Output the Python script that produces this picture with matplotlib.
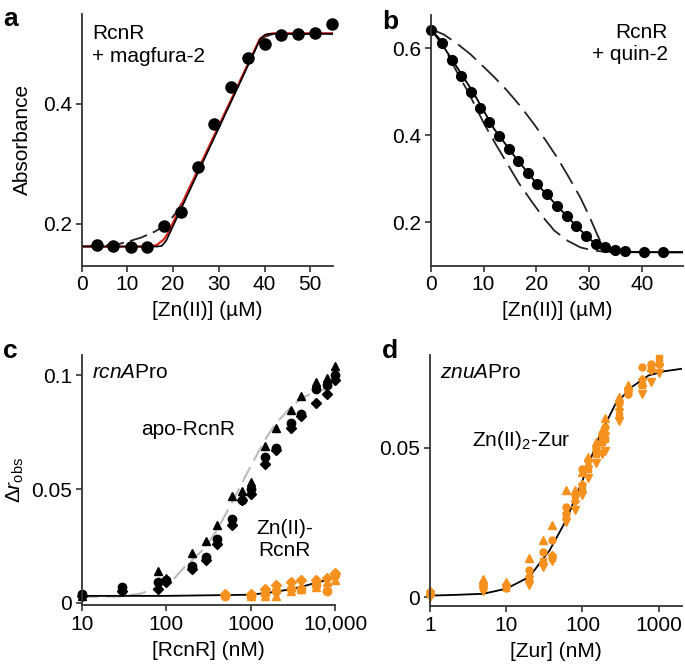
import matplotlib
matplotlib.use("Agg")
import matplotlib.pyplot as plt
from matplotlib.ticker import FixedLocator, NullLocator

plt.rcParams['font.family'] = ['Liberation Sans', 'DejaVu Sans']
plt.rcParams['mathtext.fontset'] = 'custom'
plt.rcParams['mathtext.rm'] = 'Liberation Sans'
plt.rcParams['mathtext.it'] = 'Liberation Sans:italic'

ORANGE = '#F7911E'
SPINE = '#333333'

# ---------------- panel a data ----------------
a_x = [3.3, 6.9, 10.7, 14.2, 18.0, 21.7, 25.4, 29.0, 32.7, 36.3, 40.1, 43.7, 47.4, 51.0, 54.7]
a_y = [0.164, 0.163, 0.161, 0.161, 0.196, 0.219, 0.294, 0.367, 0.428, 0.476, 0.500, 0.515, 0.516, 0.518, 0.534]
a_fit_x = [0, 16.5, 17.5, 18.5, 39.0, 40.0, 41.0, 55]
a_fit_y = [0.162, 0.162, 0.163, 0.172, 0.507, 0.515, 0.517, 0.517]
a_red_x = [0, 15.0, 16.5, 18.0, 19.0, 39.0, 40.5, 42.0, 55]
a_red_y = [0.162, 0.162, 0.165, 0.174, 0.186, 0.509, 0.516, 0.518, 0.518]
a_dash_x = [0, 4, 8, 10, 13, 16, 18.6, 21, 23, 25, 27, 30, 33, 36, 38, 40, 42, 55]
a_dash_y = [0.1625, 0.163, 0.166, 0.170, 0.177, 0.187, 0.199, 0.222, 0.250, 0.283, 0.313, 0.361,
            0.410, 0.459, 0.491, 0.512, 0.517, 0.517]

# ---------------- panel b data ----------------
b_x = [0, 2.1, 4.0, 5.7, 7.6, 9.4, 11.1, 12.9, 14.8, 16.6, 18.4, 20.2, 22.1, 24.0, 25.8,
       27.6, 29.5, 31.3, 33.1, 34.9, 36.8, 40.4, 44.1]
b_y = [0.642, 0.612, 0.573, 0.536, 0.500, 0.464, 0.431, 0.398, 0.368, 0.341, 0.313, 0.289,
       0.266, 0.237, 0.215, 0.192, 0.169, 0.151, 0.142, 0.136, 0.134, 0.132, 0.131]
b_fit_x = [0, 2, 4, 8, 12, 16, 20, 24, 28, 31, 33, 35, 40, 48]
b_fit_y = [0.645, 0.612, 0.575, 0.500, 0.415, 0.350, 0.290, 0.237, 0.186, 0.152, 0.137, 0.133, 0.131, 0.131]
b_up_x = [0, 2.5, 4.9, 7.5, 10, 12.2, 14.4, 17, 19.5, 21.7, 23.9, 26.1, 28.3, 30, 31.5, 32.7, 34, 48]
b_up_y = [0.645, 0.632, 0.612, 0.587, 0.558, 0.532, 0.504, 0.467, 0.427, 0.390, 0.350, 0.305, 0.258, 0.215, 0.173, 0.142, 0.132, 0.131]
b_lo_x = [0, 1.9, 3.8, 5.3, 6.9, 8.5, 10.1, 12.3, 14.5, 16.7, 19, 21.2, 23.4, 26, 28.4, 30.5, 32.2, 36, 48]
b_lo_y = [0.645, 0.619, 0.573, 0.538, 0.504, 0.466, 0.427, 0.380, 0.335, 0.290, 0.250, 0.213, 0.181, 0.157, 0.142, 0.136, 0.133, 0.131, 0.131]

# ---------------- panel c data ----------------
c_conc = [10, 30, 80, 100, 200, 300, 400, 600, 800, 1000, 1500, 2000, 3000, 4000, 6000, 8000, 10000]
c_apo_tri = [0.003, 0.006, 0.014, 0.011, 0.022, 0.027, 0.034, 0.047, 0.049, 0.053, 0.069, 0.077,
             0.085, 0.091, 0.097, 0.099, 0.104]
c_apo_circ = [0.004, 0.007, 0.009, 0.010, 0.016, 0.020, 0.028, 0.037, 0.045, 0.050, 0.064, 0.068,
              0.079, 0.083, 0.094, 0.096, 0.100]
c_apo_diam = [0.003, 0.005, 0.006, 0.009, 0.015, 0.019, 0.026, 0.034, 0.045, 0.048, 0.061, 0.067,
              0.077, 0.082, 0.088, 0.092, 0.098]
c_apo_fit_x = [10, 30, 50, 80, 120, 165, 245, 300, 400, 600, 800, 1000, 1500, 2000, 3000, 4000, 6000, 10000]
c_apo_fit_y = [0.0025, 0.0028, 0.004, 0.0067, 0.010, 0.0157, 0.0216, 0.025, 0.032, 0.044, 0.053,
               0.060, 0.072, 0.079, 0.086, 0.090, 0.093, 0.095]
c_zn_conc = [500, 1000, 1500, 2000, 3000, 4000, 6000, 8000, 10000]
c_zn_diam = [0.004, 0.004, 0.006, 0.008, 0.009, 0.010, 0.010, 0.011, 0.013]
c_zn_tri = [0.004, 0.003, 0.003, 0.003, 0.005, 0.006, 0.007, 0.009, 0.010]
c_zn_circ = [0.003, 0.003, 0.004, 0.005, 0.006, 0.006, 0.008, 0.005, 0.012]
c_zn_fit_x = [10, 100, 1000, 2000, 3000, 4000, 6000, 8000, 10000]
c_zn_fit_y = [0.003, 0.003, 0.0035, 0.0048, 0.006, 0.007, 0.0088, 0.0100, 0.0112]

# ---------------- panel d data ----------------
d_conc = [1, 5, 10, 20, 30, 40, 60, 80, 100, 120, 150, 180, 200, 300, 400, 600, 800, 1000]
d_tri_up = [0.002, 0.006, 0.005, 0.013, 0.019, 0.024, 0.036, 0.036, 0.042, 0.047, 0.052, 0.056,
            0.060, 0.067, 0.071, 0.072, 0.077, 0.079]
d_circ = [0.001, 0.004, 0.004, 0.009, 0.015, 0.019, 0.030, 0.034, 0.043, 0.046, 0.050, 0.054,
          0.057, 0.065, 0.068, 0.077, 0.078, 0.078]
d_square = [0.001, 0.003, 0.003, 0.006, 0.012, 0.013, 0.027, 0.034, 0.037, 0.043, 0.048, 0.052,
            0.053, 0.061, 0.069, 0.071, 0.077, 0.080]
d_tri_dn = [0.000, 0.002, 0.003, 0.004, 0.010, 0.012, 0.025, 0.029, 0.034, 0.040, 0.045, 0.048,
            0.049, 0.059, 0.068, 0.068, 0.072, 0.075]
d_diam = [0.002, 0.004, 0.004, 0.007, 0.011, 0.014, 0.028, 0.032, 0.038, 0.044, 0.049, 0.052,
          0.055, 0.063, 0.070, 0.073, 0.076, 0.078]
d_fit_x = [1, 2, 5, 10, 20, 37, 61, 100, 165, 272, 443, 740, 1200, 2000]
d_fit_y = [0.0005, 0.0007, 0.0011, 0.0028, 0.0067, 0.0156, 0.0257, 0.039, 0.0536, 0.0647, 0.0703,
           0.0742, 0.0756, 0.0764]

fig = plt.figure(figsize=(6.85, 6.64), dpi=100)

def style(ax):
    for s in ['top', 'right']:
        ax.spines[s].set_visible(False)
    for s in ['left', 'bottom']:
        ax.spines[s].set_color(SPINE)
        ax.spines[s].set_linewidth(1.3)
    ax.tick_params(direction='out', length=4, width=1.2, color=SPINE, labelsize=15, pad=3)

FS = 15

# ---- a ----
ax = fig.add_axes([0.1193, 0.5998, 0.3669, 0.379])
style(ax)
ax.plot(a_dash_x, a_dash_y, color='#222222', lw=1.3, dashes=(10, 3.5))
ax.plot(a_red_x, a_red_y, color='#E0231B', lw=1.6)
ax.plot(a_fit_x, a_fit_y, color='black', lw=1.2)
ax.plot(a_x, a_y, 'o', color='black', ms=8, clip_on=False)
ax.set_xlim(0, 55)
ax.set_ylim(0.13, 0.55)
ax.set_xticks([0, 10, 20, 30, 40, 50])
ax.set_yticks([0.2, 0.4])
ax.set_yticklabels(['0.2', '0.4'])
ax.set_xlabel('[Zn(II)] (µM)', fontsize=FS, labelpad=5)
ax.set_ylabel('Absorbance', fontsize=FS, labelpad=8)
ax.text(0.04, 0.96, 'RcnR\n+ magfura-2', transform=ax.transAxes, fontsize=FS,
        va='top', ha='left', linespacing=1.25)

# ---- b ----
ax = fig.add_axes([0.6288, 0.5998, 0.3683, 0.3776])
style(ax)
ax.plot(b_up_x, b_up_y, color='#222222', lw=1.3, dashes=(13, 4.5))
ax.plot(b_lo_x, b_lo_y, color='#222222', lw=1.3, dashes=(13, 4.5))
ax.plot(b_fit_x, b_fit_y, color='black', lw=1.3)
ax.plot(b_x, b_y, 'o', color='black', ms=7, clip_on=False)
ax.set_xlim(0, 47.8)
ax.set_ylim(0.1, 0.677)
ax.set_xticks([0, 10, 20, 30, 40])
ax.set_yticks([0.2, 0.4, 0.6])
ax.set_yticklabels(['0.2', '0.4', '0.6'])
ax.set_xlabel('[Zn(II)] (µM)', fontsize=FS, labelpad=5)
ax.text(0.94, 0.97, 'RcnR\n+ quin-2', transform=ax.transAxes, fontsize=FS,
        va='top', ha='right', linespacing=1.25, multialignment='right')

# ---- c ----
ax = fig.add_axes([0.1193, 0.0889, 0.3698, 0.3765])
style(ax)
ax.set_xscale('log')
ax.plot(c_apo_fit_x, c_apo_fit_y, color='#BBBBBB', lw=1.5, dashes=(8, 3.5))
ax.plot(c_zn_fit_x, c_zn_fit_y, color='black', lw=1.3)
ax.plot(c_conc, c_apo_tri, '^', color='black', ms=6, clip_on=False)
ax.plot(c_conc, c_apo_circ, 'o', color='black', ms=6, clip_on=False)
ax.plot(c_conc, c_apo_diam, 'D', color='black', ms=5, clip_on=False)
ax.plot(c_zn_conc, c_zn_diam, 'D', color=ORANGE, ms=5, clip_on=False)
ax.plot(c_zn_conc, c_zn_tri, '^', color=ORANGE, ms=6, clip_on=False)
ax.plot(c_zn_conc, c_zn_circ, 'o', color=ORANGE, ms=6, clip_on=False)
ax.set_xlim(10, 10000)
ax.set_ylim(-0.001, 0.109)
ax.xaxis.set_major_locator(FixedLocator([10, 100, 1000, 10000]))
ax.xaxis.set_minor_locator(NullLocator())
ax.set_xticklabels(['10', '100', '1000', '10,000'])
ax.set_yticks([0, 0.05, 0.1])
ax.set_yticklabels(['0', '0.05', '0.1'])
ax.set_xlabel('[RcnR] (nM)', fontsize=FS, labelpad=5)
ax.set_ylabel(r'$\Delta \mathit{r}_{\mathrm{obs}}$', fontsize=FS, labelpad=4)
ax.text(0.04, 0.93, r'$\mathit{rcnA}$Pro', transform=ax.transAxes, fontsize=FS, va='center', ha='left')
ax.text(0.42, 0.70, 'apo-RcnR', transform=ax.transAxes, fontsize=FS, va='center', ha='center')
ax.text(0.80, 0.26, 'Zn(II)-\nRcnR', transform=ax.transAxes, fontsize=FS, va='center', ha='center',
        linespacing=1.2)

# ---- d ----
ax = fig.add_axes([0.6277, 0.0873, 0.3674, 0.378])
style(ax)
ax.set_xscale('log')
ax.plot(d_fit_x, d_fit_y, color='black', lw=1.3)
ax.plot(d_conc, d_tri_up, '^', color=ORANGE, ms=5.5, clip_on=False)
ax.plot(d_conc, d_circ, 'o', color=ORANGE, ms=5, clip_on=False)
ax.plot(d_conc, d_square, 's', color=ORANGE, ms=5, clip_on=False)
ax.plot(d_conc, d_tri_dn, 'v', color=ORANGE, ms=5.5, clip_on=False)
ax.plot(d_conc, d_diam, 'D', color=ORANGE, ms=4.5, clip_on=False)
ax.set_xlim(1, 2000)
ax.set_ylim(-0.003, 0.081)
ax.xaxis.set_major_locator(FixedLocator([1, 10, 100, 1000]))
ax.xaxis.set_minor_locator(NullLocator())
ax.set_xticklabels(['1', '10', '100', '1000'])
ax.set_yticks([0, 0.05])
ax.set_yticklabels(['0', '0.05'])
ax.set_xlabel('[Zur] (nM)', fontsize=FS, labelpad=5)
ax.text(0.04, 0.93, r'$\mathit{znuA}$Pro', transform=ax.transAxes, fontsize=FS, va='center', ha='left')
ax.text(0.166, 0.66, r'Zn(II)$_2$-Zur', transform=ax.transAxes, fontsize=FS, va='center', ha='left')

# panel letters
for lbl, x, y in [('a', 0.005, 0.99), ('b', 0.558, 0.985), ('c', 0.005, 0.49), ('d', 0.558, 0.49)]:
    fig.text(x, y, lbl, fontsize=19, fontweight='bold', va='top', ha='left')

fig.savefig('out.png', dpi=100)
